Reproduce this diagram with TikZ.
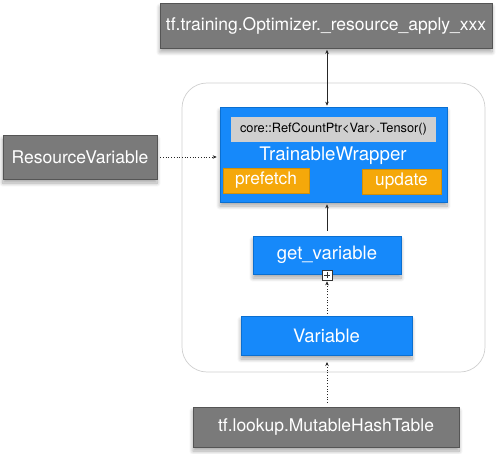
\documentclass[tikz,border=0pt]{standalone}
\usepackage{fontspec}
\setmainfont{TeX Gyre Heros}
\usetikzlibrary{shadows.blur,arrows.meta}
\definecolor{boxgray}{HTML}{7A7A7A}
\definecolor{boxgrayline}{HTML}{555555}
\definecolor{tfblue}{HTML}{1689FA}
\definecolor{tfblueline}{HTML}{0B6FD0}
\definecolor{tforange}{HTML}{F5A80A}
\definecolor{coregray}{HTML}{CFCFCF}
\definecolor{contline}{HTML}{CFCFCF}
\begin{document}
\begin{tikzpicture}[x=1pt,y=-1pt,
  shadowed/.style={blur shadow={shadow xshift=0pt,shadow yshift=-4pt,shadow blur steps=8,shadow opacity=35,shadow blur radius=4pt}},
  graybox/.style={shadowed,draw=boxgrayline,fill=boxgray,line width=0.6pt,text=white,inner sep=0pt,font=\fontsize{17.5}{20}\selectfont},
  bluebox/.style={shadowed,draw=tfblueline,fill=tfblue,line width=0.6pt,text=white,inner sep=0pt,font=\fontsize{18.5}{21}\selectfont},
  orangebox/.style={fill=tforange,draw=tforange!85!black,line width=0.4pt,text=white,inner sep=0pt,font=\fontsize{17.3}{20}\selectfont},
  conn/.style={draw=black!85,line width=0.7pt,-{Stealth[length=4pt,width=3.5pt]}},
  dotconn/.style={conn,dotted,line width=0.8pt}
]
\useasboundingbox (0,0) rectangle (500,454);
% container
\draw[contline,line width=0.7pt,rounded corners=25pt] (182,83) rectangle (485,372);
% nodes
\node[graybox,minimum width=332pt,minimum height=45pt] (opt) at (326,25.5) {tf.training.Optimizer.\_resource\_apply\_xxx};
\node[graybox,minimum width=154pt,minimum height=44pt] (rv) at (80,157) {ResourceVariable};
\node[bluebox,minimum width=227pt,minimum height=95pt] (tw) at (333.5,154.5) {};
\node[fill=coregray,minimum width=205pt,minimum height=25pt,inner sep=0pt,font=\fontsize{12.8}{15}\selectfont] (core) at (333.5,129.5) {core::RefCountPtr<Var>.Tensor()};
\node[text=white,inner sep=0pt,font=\fontsize{18.7}{21}\selectfont] (twlabel) at (333,156) {TrainableWrapper};
\node[orangebox,minimum width=86pt,minimum height=25pt] (pre) at (266,180.5) {prefetch};
\node[orangebox,minimum width=79pt,minimum height=25pt] (upd) at (401.5,181.5) {update};
\node[bluebox,minimum width=148pt,minimum height=38pt] (gv) at (327,255) {get\_variable};
\node[bluebox,minimum width=171pt,minimum height=39pt] (var) at (326.5,335.5) {Variable};
\node[graybox,minimum width=266pt,minimum height=40pt] (mht) at (326,427) {tf.lookup.MutableHashTable};
\node[draw=black!80,fill=white,line width=0.6pt,minimum size=10pt,inner sep=0pt] (plus) at (327,275) {};
\draw[black!80,line width=0.6pt] ([xshift=-3pt]plus.center) -- ([xshift=3pt]plus.center)
  ([yshift=-3pt]plus.center) -- ([yshift=3pt]plus.center);
\coordinate (mhtend) at (327,362);
% connectors
\draw[conn,{Stealth[length=4pt,width=3.5pt]}-{Stealth[length=4pt,width=3.5pt]},shorten <=1.5pt,shorten >=1pt] (opt.south -| 327,0) -- (tw.north -| 327,0);
\draw[dotconn,shorten <=3pt,shorten >=3pt] (rv.east) -- (rv.east -| tw.west);
\draw[conn,shorten <=5pt,shorten >=2pt] (gv.north) -- (gv.north |- tw.south);
\draw[dotconn,shorten <=2pt,shorten >=1pt] (var.north -| plus.south) -- (plus.south);
\draw[dotconn,shorten <=4pt] (mht.north -| mhtend) -- (mhtend);
\end{tikzpicture}
\end{document}
